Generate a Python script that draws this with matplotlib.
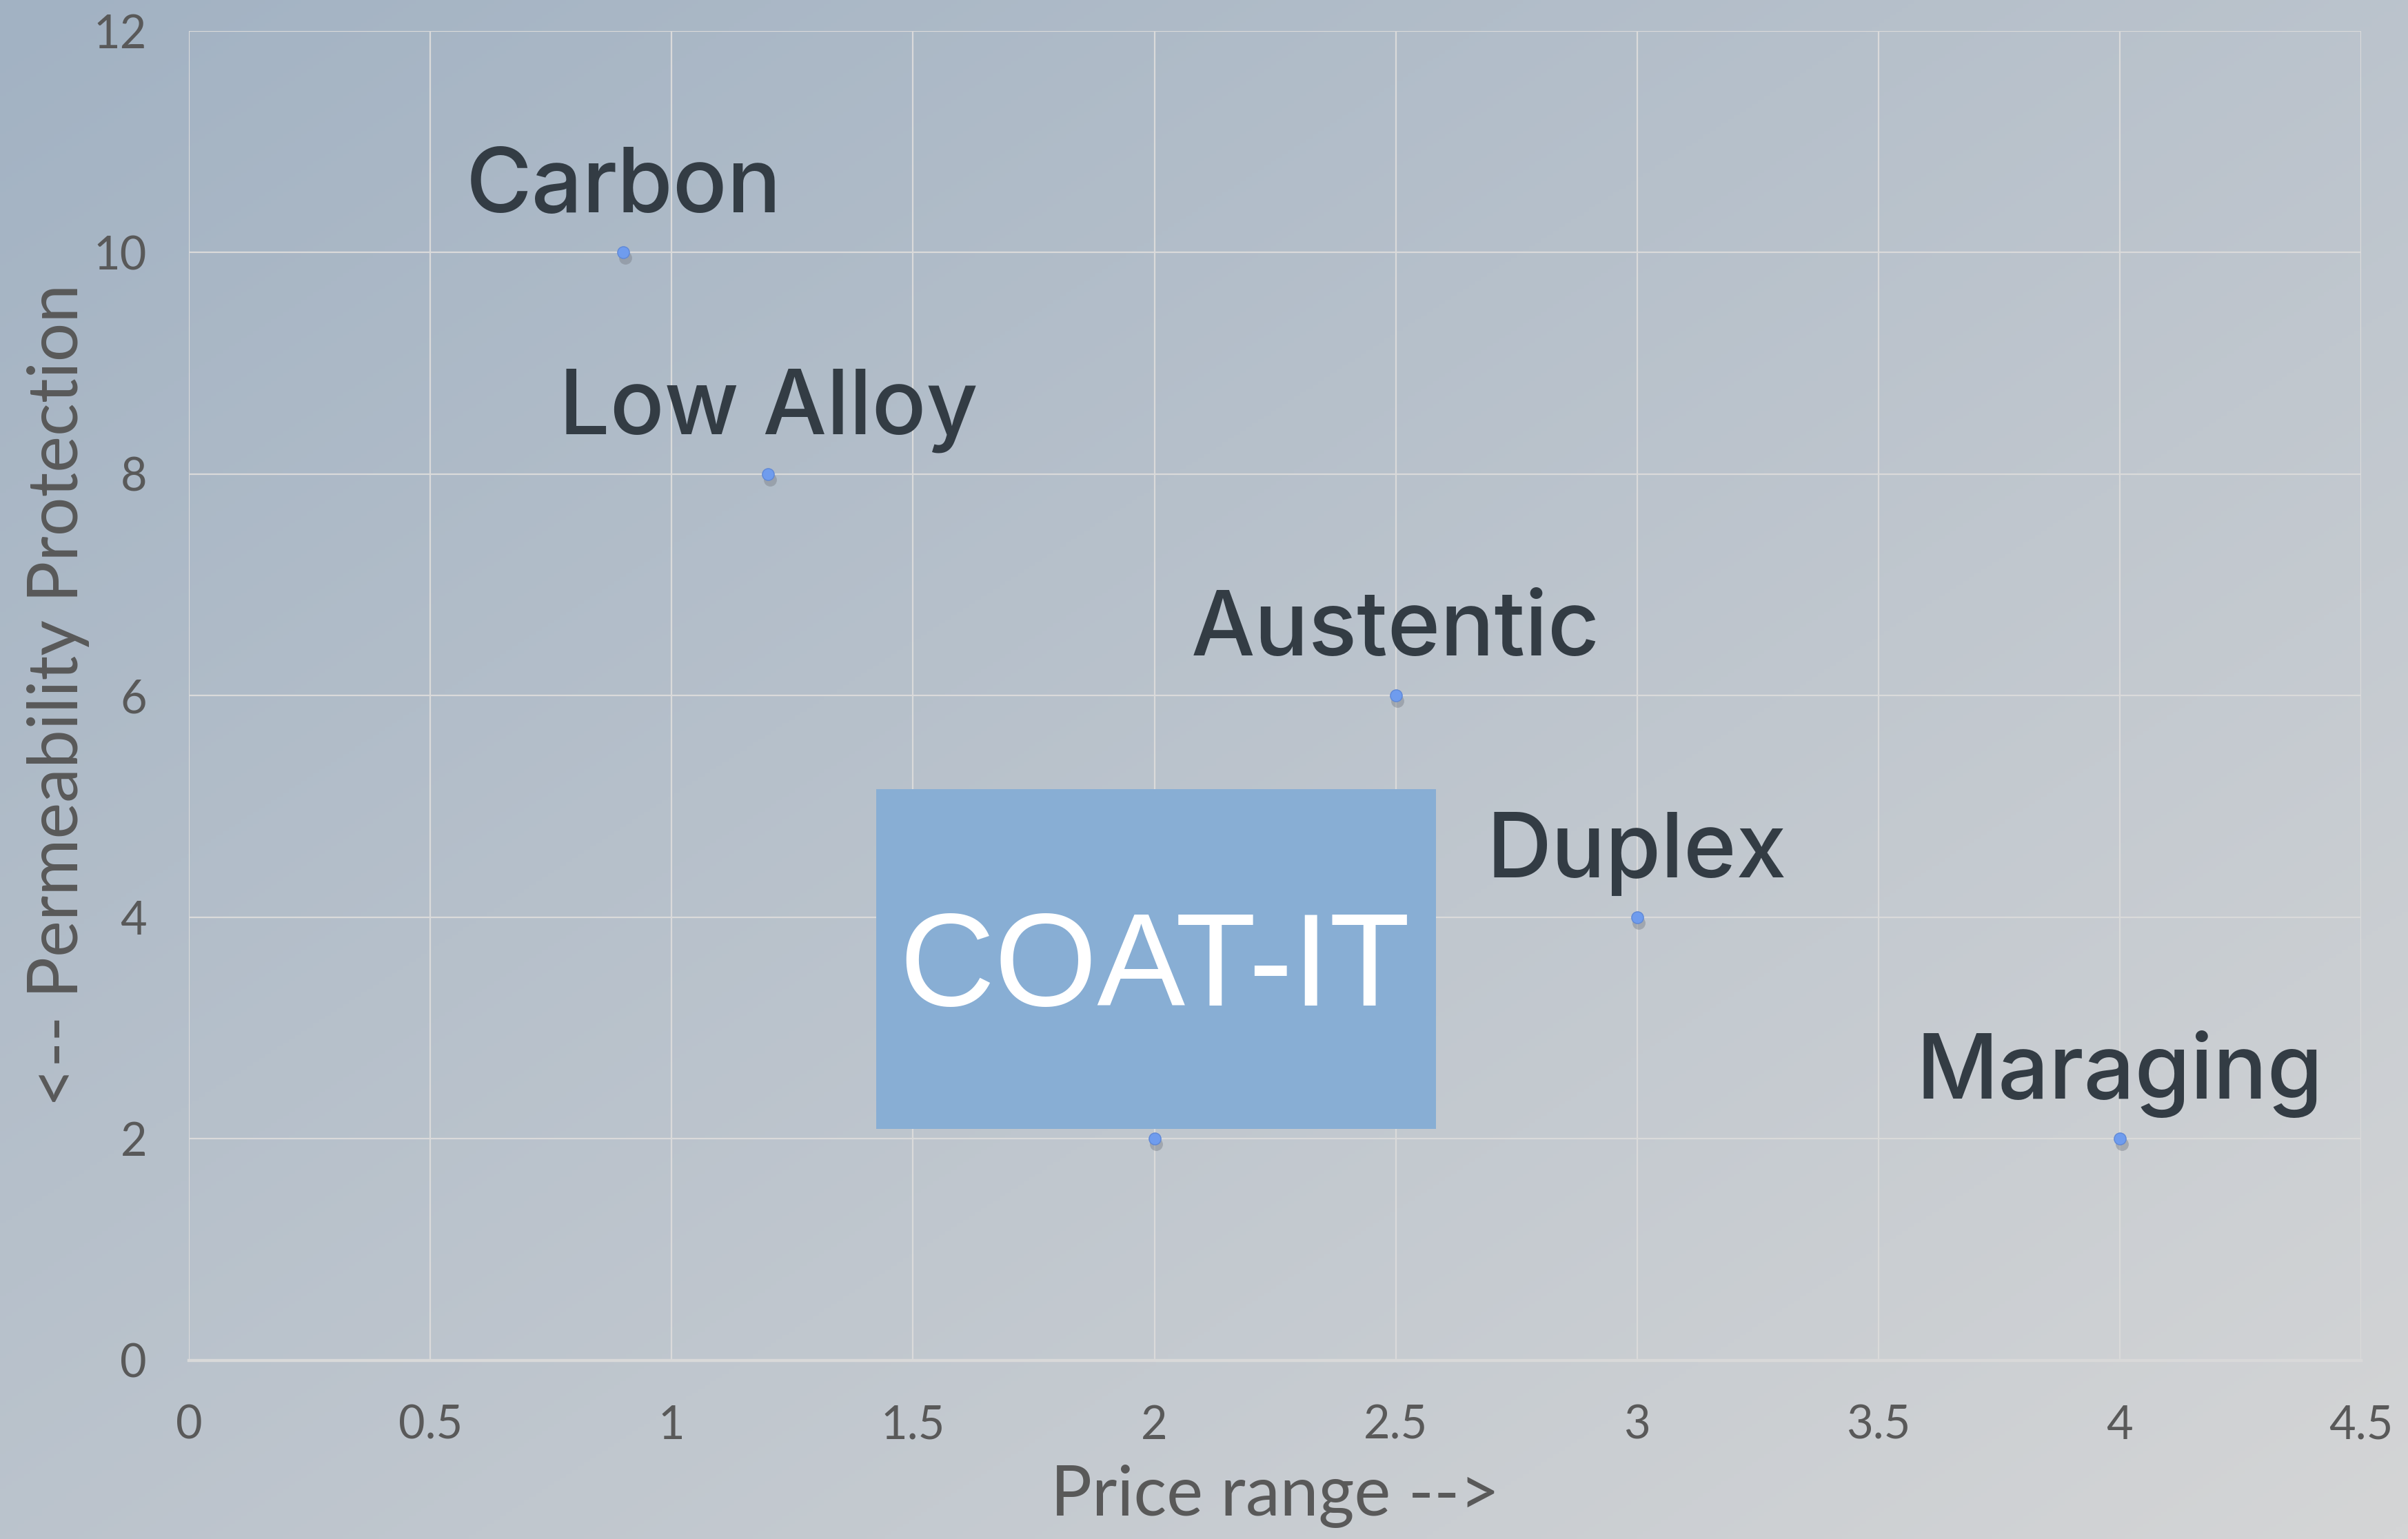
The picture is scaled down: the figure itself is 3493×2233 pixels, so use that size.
import numpy as np
import matplotlib
matplotlib.use("Agg")
import matplotlib.pyplot as plt
from matplotlib.colors import LinearSegmentedColormap
from matplotlib.patches import Rectangle

# steel grades: price range vs permeability protection
names = ["Carbon", "Low Alloy", "Austentic", "Duplex", "Maraging"]
price = [0.9, 1.2, 2.5, 3.0, 4.0]
protection = [10, 8, 6, 4, 2]

coat_name = "COAT-IT"
coat_price = 2.0
coat_protection = 2.0

x_ticks = [0, 0.5, 1, 1.5, 2, 2.5, 3, 3.5, 4, 4.5]
y_ticks = [0, 2, 4, 6, 8, 10, 12]


def main():
    fig = plt.figure(figsize=(17.465, 11.165), dpi=200)

    # diagonal background gradient
    bg = fig.add_axes([0, 0, 1, 1], zorder=-10)
    gx, gy = np.meshgrid(np.linspace(0, 1, 400), np.linspace(0, 1, 400))
    cmap = LinearSegmentedColormap.from_list("bg", ["#a2b2c3", "#d4d5d6"])
    bg.imshow((gx + gy) / 2, cmap=cmap, aspect="auto", origin="upper",
              extent=[0, 1, 0, 1], vmin=0, vmax=1)
    bg.axis("off")

    ax = fig.add_axes([0.0785, 0.116, 0.902, 0.864])
    ax.patch.set_alpha(0)
    ax.set_xlim(0, 4.5)
    ax.set_ylim(0, 12)
    ax.set_xticks(x_ticks)
    ax.set_yticks(y_ticks)
    ax.set_xticklabels([f"{t:g}" for t in x_ticks])
    ax.set_yticklabels([f"{t:g}" for t in y_ticks])
    ax.grid(True, color="#dadada", linewidth=0.8)
    ax.set_axisbelow(True)
    for side in ["top", "right", "left"]:
        ax.spines[side].set_visible(False)
    ax.spines["bottom"].set_color("#d9d9d9")
    ax.spines["bottom"].set_linewidth(1.6)
    ax.tick_params(length=0, labelsize=24, labelcolor="#595959")
    ax.tick_params(axis="x", pad=23)
    ax.tick_params(axis="y", pad=22)
    for lbl in ax.get_xticklabels() + ax.get_yticklabels():
        lbl.set_family("Lato")

    ax.set_xlabel("Price range -->", fontsize=36, color="#595959",
                  family="Lato", labelpad=9)
    ax.set_ylabel("<-- Permeability Protection", fontsize=36, color="#595959",
                  family="Lato", labelpad=2)

    all_x = price + [coat_price]
    all_y = protection + [coat_protection]
    # soft marker shadow
    ax.plot(np.array(all_x) + 0.004, np.array(all_y) - 0.05, "o",
            color="#7a7f88", alpha=0.45, markersize=6.8, markeredgewidth=0,
            zorder=3, clip_on=False)
    ax.plot(all_x, all_y, "o", color="#6f9cee", markeredgecolor="#5f88d6",
            markeredgewidth=0.5, markersize=6.2, zorder=4, clip_on=False)

    for n, x, y in zip(names, price, protection):
        ax.annotate(n, (x, y), xytext=(0, 21), textcoords="offset points",
                    ha="center", va="baseline", fontsize=47,
                    color="#333c44", family="Inter", fontweight="medium")

    # COAT-IT highlight box
    ax.add_patch(Rectangle((coat_price - 0.577, coat_protection + 0.09),
                           1.161, 3.065, facecolor="#88aed4",
                           edgecolor="none", zorder=5))
    ax.text(coat_price, coat_protection + 1.2, coat_name, ha="center",
            va="baseline", fontsize=69, color="white",
            family="Liberation Sans", zorder=6)

    fig.savefig("out.png", dpi=200)


if __name__ == "__main__":
    main()
